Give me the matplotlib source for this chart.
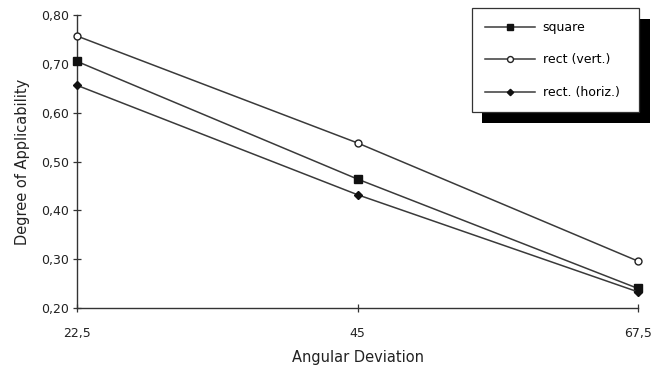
import matplotlib
matplotlib.use("Agg")
import matplotlib.pyplot as plt
from matplotlib.patches import Rectangle
from matplotlib.ticker import FixedLocator, FixedFormatter

# Data
x_values = [22.5, 45, 67.5]
x_labels = ["22,5", "45", "67,5"]
square = [0.705, 0.464, 0.240]
rect_vert = [0.757, 0.538, 0.296]
rect_horiz = [0.656, 0.432, 0.233]
y_ticks = [0.20, 0.30, 0.40, 0.50, 0.60, 0.70, 0.80]
y_labels = ["0,20", "0,30", "0,40", "0,50", "0,60", "0,70", "0,80"]
series_names = ["square", "rect (vert.)", "rect. (horiz.)"]

plt.rcParams['font.family'] = ['DejaVu Sans']
W, H = 662, 371
fig = plt.figure(figsize=(W / 100, H / 100), dpi=100)
ax = fig.add_axes([77 / W, 1 - 308 / H, (638 - 77) / W, (308 - 15) / H])

lc = "#3a3a3a"
l1, = ax.plot(x_values, square, color=lc, lw=1.1, marker="s", ms=5.5,
              mfc="#111111", mec="#111111", label=series_names[0], clip_on=False, zorder=3)
l2, = ax.plot(x_values, rect_vert, color=lc, lw=1.1, marker="o", ms=5,
              mfc="white", mec="#222222", mew=1, label=series_names[1], clip_on=False, zorder=3)
l3, = ax.plot(x_values, rect_horiz, color=lc, lw=1.1, marker="D", ms=3.8,
              mfc="#111111", mec="#111111", label=series_names[2], clip_on=False, zorder=3)

ax.set_xlim(22.5, 67.5)
ax.set_ylim(0.20, 0.80)
ax.xaxis.set_major_locator(FixedLocator(x_values))
ax.xaxis.set_major_formatter(FixedFormatter(x_labels))
ax.yaxis.set_major_locator(FixedLocator(y_ticks))
ax.yaxis.set_major_formatter(FixedFormatter(y_labels))

for s in ["top", "right"]:
    ax.spines[s].set_visible(False)
for s in ["left", "bottom"]:
    ax.spines[s].set_color("#333333")
    ax.spines[s].set_linewidth(1.0)

ax.tick_params(axis="y", direction="inout", length=6, width=0.9, colors="#333333",
               labelsize=9, pad=3)
ax.tick_params(axis="x", direction="inout", length=6, width=0.9, colors="#333333",
               labelsize=9, pad=11)
for t in ax.get_xticklabels() + ax.get_yticklabels():
    t.set_color("#222222")

ax.set_xlabel("Angular Deviation", fontsize=10.5, color="#222222", labelpad=7)
ax.set_ylabel("Degree of Applicability", fontsize=10.5, color="#222222", labelpad=8)

leg = fig.legend(handles=[l1, l2, l3], loc="upper left",
                 bbox_to_anchor=(472 / W, 1 - 8 / H, (639 - 472) / W, 0.0),
                 mode="expand", fontsize=9, frameon=True, fancybox=False,
                 framealpha=1, edgecolor="#333333", labelspacing=1.55,
                 handlelength=4.0, handletextpad=0.6, borderpad=1.05,
                 borderaxespad=0.0, markerscale=0.85)
leg.get_frame().set_linewidth(0.9)
leg.set_zorder(10)

fig.canvas.draw()
bb = leg.get_window_extent()
inv = fig.transFigure.inverted()
(x0, y0), (x1, y1) = inv.transform([(bb.x0 + 10, bb.y0 - 11), (bb.x1 + 11, bb.y1 - 11)])
shadow = Rectangle((x0, y0), x1 - x0, y1 - y0, transform=fig.transFigure,
                   facecolor="black", edgecolor="none", zorder=9)
fig.add_artist(shadow)

fig.savefig("out.png", dpi=100)
